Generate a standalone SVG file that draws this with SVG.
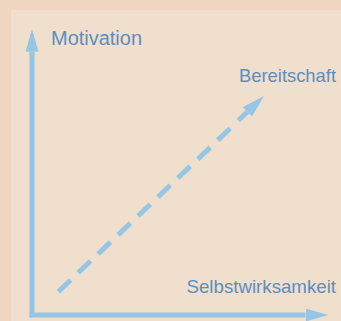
<svg xmlns="http://www.w3.org/2000/svg" width="341" height="321" viewBox="0 0 341 321">
<style>
.lbl{font-family:"Liberation Sans",Arial,sans-serif;font-size:20px;fill:#5B8EC1}
.r{font-size:18.6px}
.ax{stroke:#95C6E6;stroke-width:5;fill:none}
</style>
<defs>
<marker id="ah" markerUnits="userSpaceOnUse" markerWidth="24" markerHeight="14" refX="0" refY="6.5" orient="auto" viewBox="0 0 24 14">
<path d="M0,0 L23,6.5 L0,13 z" fill="#95C6E6"/>
</marker>
</defs>
<rect x="0" y="0" width="341" height="321" fill="#EED6C0"/>
<rect x="11" y="10" width="330" height="311" fill="#F1DFCD"/>
<g id="connectors">
<line class="ax" x1="32" y1="317.5" x2="32" y2="51.7" marker-end="url(#ah)"/>
<line class="ax" x1="29.5" y1="315" x2="305.5" y2="315" marker-end="url(#ah)"/>
<line class="ax" x1="58.3" y1="291.7" x2="230.3" y2="128.3" stroke-dasharray="17 10.5"/>
<line class="ax" x1="238.3" y1="120.5" x2="247.4" y2="111.8" marker-end="url(#ah)"/>
</g>
<g id="motivation"><text class="lbl" x="51" y="45" textLength="91" lengthAdjust="spacingAndGlyphs">Motivation</text></g>
<g id="bereitschaft"><text class="lbl r" x="239" y="82" textLength="97" lengthAdjust="spacingAndGlyphs">Bereitschaft</text></g>
<g id="selbstwirksamkeit"><text class="lbl r" x="186.5" y="293" textLength="149.5" lengthAdjust="spacingAndGlyphs">Selbstwirksamkeit</text></g>
</svg>
